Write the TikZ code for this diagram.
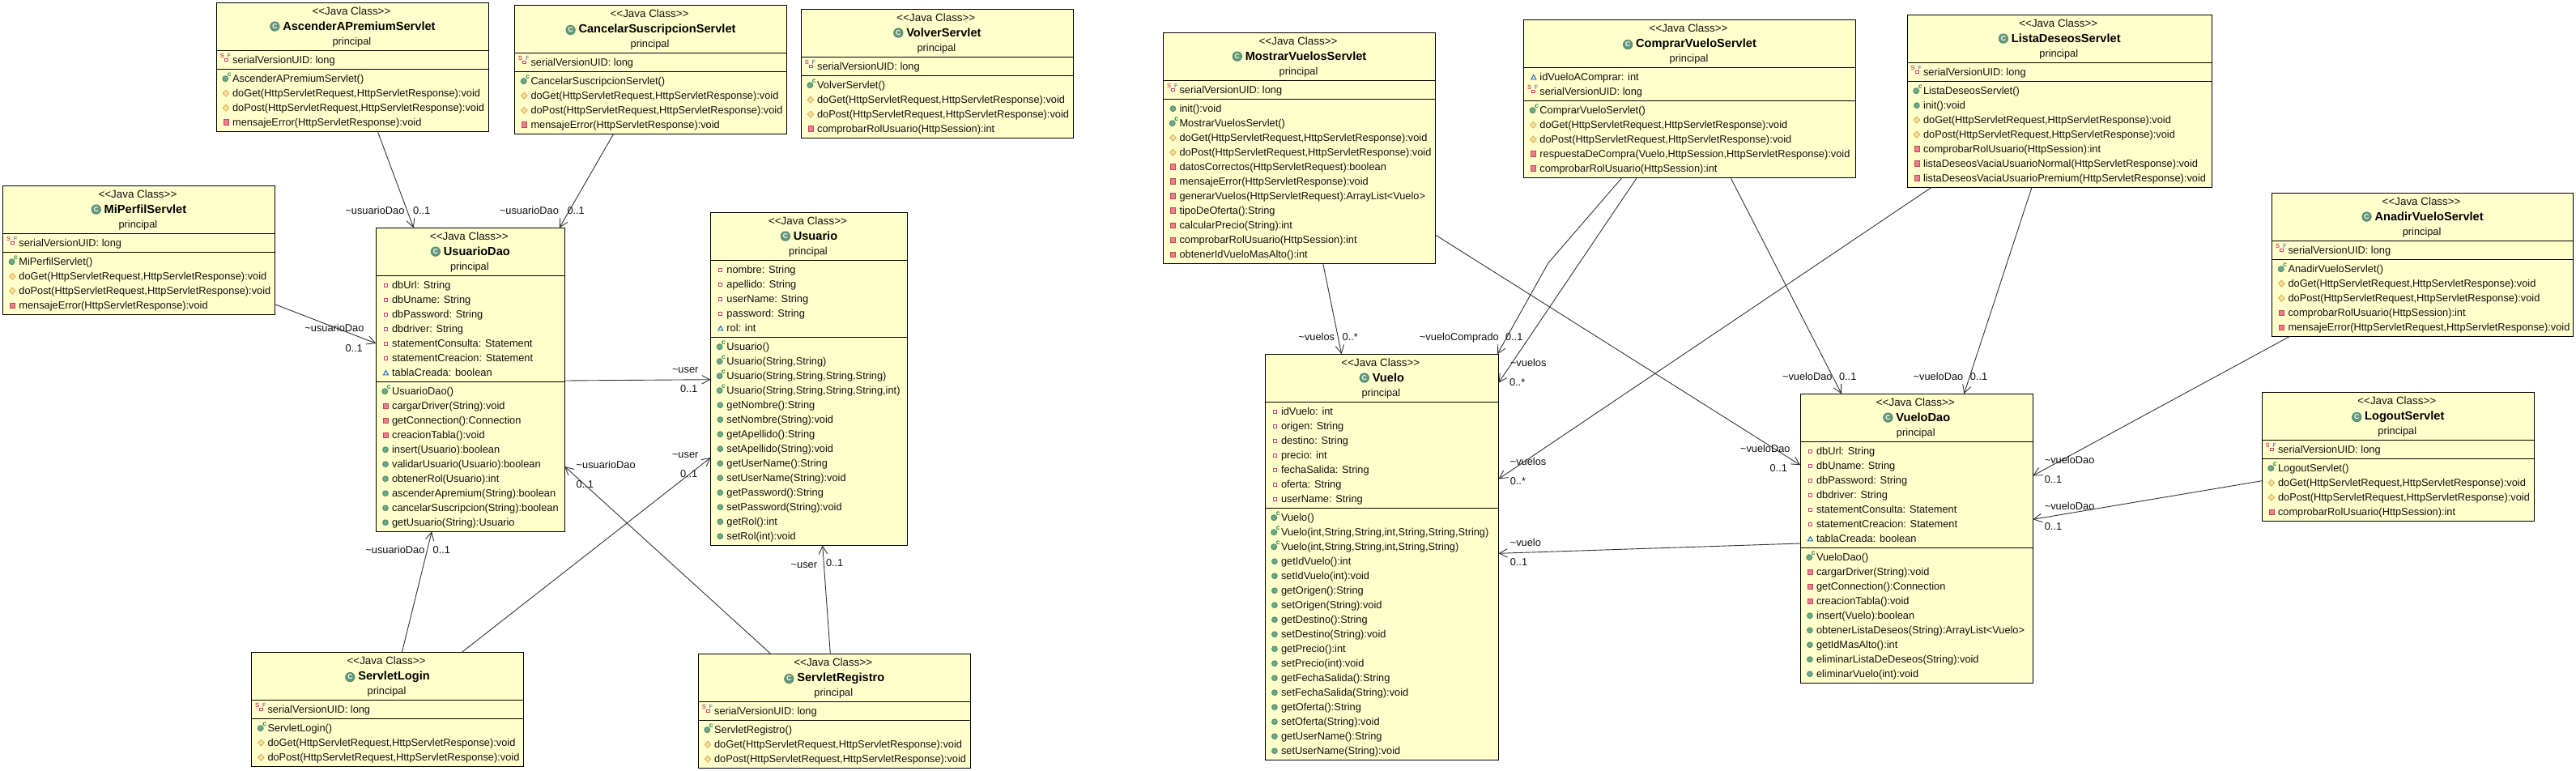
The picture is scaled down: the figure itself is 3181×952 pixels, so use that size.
\documentclass[tikz,border=0pt]{standalone}
\usepackage{fontspec}
\setmainfont{Liberation Sans}
\usetikzlibrary{calc,arrows.meta}
\definecolor{boxfill}{HTML}{FFFFCC}
\definecolor{linecol}{HTML}{333333}
\definecolor{redline}{HTML}{D0405C}
\definecolor{redfill}{HTML}{E8808C}
\definecolor{greenfill}{HTML}{6FA888}
\definecolor{greenline}{HTML}{4A8A68}
\definecolor{yellowfill}{HTML}{F8E0A0}
\definecolor{yellowline}{HTML}{D8AC50}
\definecolor{blueline}{HTML}{2A6FB5}
\definecolor{sred}{HTML}{C8004B}
\definecolor{fblue}{HTML}{3C64B4}
\definecolor{cgreen}{HTML}{1E8C4A}
\definecolor{textcol}{HTML}{101010}
\newcommand\bodyfont{\fontsize{12.8}{14}\selectfont}
\newcounter{rowc}
\newcommand\tld{\textasciitilde}
\tikzset{
  classbox/.style={draw=black,fill=boxfill,line width=1.2,inner sep=0,outer sep=0,anchor=north west},
  divline/.style={draw=black,line width=1.2},
  rowtxt/.style={anchor=base west,inner sep=0,outer sep=0,text=textcol,font=\bodyfont},
  headtxt/.style={anchor=base,inner sep=0,outer sep=0,text=textcol,font=\bodyfont},
  stereotxt/.style={anchor=base,inner sep=0,outer sep=0,text=textcol,font=\fontsize{13.4}{14}\selectfont},
  titletxt/.style={anchor=base,inner sep=0,outer sep=0,text=black,font=\fontsize{14.6}{16}\selectfont\bfseries},
  classicon/.style={circle,draw=greenline,fill=greenfill!90!black,text=white,inner sep=0,outer sep=0,minimum size=11.5,line width=.7,font=\fontsize{8.5}{9}\selectfont\bfseries},
  lbl/.style={anchor=base west,inner sep=0,outer sep=0,text=textcol,font=\bodyfont},
  assoc/.style={draw=linecol,line width=.9,-{Straight Barb[length=10pt,width=10.5pt]}},
  smallred/.style={inner sep=0,outer sep=0,text=sred,font=\fontsize{7.5}{8}\selectfont},
  smallblue/.style={inner sep=0,outer sep=0,text=fblue,font=\fontsize{7.5}{8}\selectfont},
  smallgreen/.style={inner sep=0,outer sep=0,text=cgreen,font=\fontsize{8.5}{9}\selectfont\bfseries},
}
% name, left, right, top, title, attribute rows, method rows
\newcommand\umlbox[7]{%
  \pgfmathsetmacro\bh{59+18*(#6+#7)+10}%
  \pgfmathsetmacro\bw{#3-#2}%
  \pgfmathsetmacro\bc{(#2+#3)/2}%
  \pgfmathsetmacro\sepb{59+18*#6+5}%
  \xdef\curname{#1}\xdef\curleft{#2}%
  \pgfmathsetmacro\tmpa{#4+59+16.5}\xdef\cury{\tmpa}%
  \pgfmathsetmacro\tmpb{#4+59+18*#6+5+16.5}\xdef\methy{\tmpb}%
  \node[classbox,minimum width=\bw pt,minimum height=\bh pt] (#1) at (#2,#4) {};
  \draw[divline] ($(#1.north west)+(0,59)$) -- ($(#1.north east)+(0,59)$);
  \draw[divline] ($(#1.north west)+(0,\sepb)$) -- ($(#1.north east)+(0,\sepb)$);
  \node[stereotxt] (#1-st) at (\bc-1.5,#4+15) {<{}<Java Class>{}>};
  \node[titletxt] (#1-ti) at (\bc+8,#4+34.5) {#5};
  \node[classicon] (#1-ic) at ($(#1-ti.west)+(-10,0)$) {C};
  \node[headtxt] (#1-pk) at (\bc-1,#4+52.5) {principal};
}
\newcommand\umlrow[1]{%
  \stepcounter{rowc}%
  \node[rowtxt] (\curname-r\therowc) at (\curleft+19.8,\cury) {#1};
  \pgfmathsetmacro\tmpa{\cury+18}\xdef\cury{\tmpa}%
}
\newcommand\umlmeth{\xdef\cury{\methy}}
\newcommand\fpriv[1]{%
  \filldraw[draw=redline,fill=white,line width=1.1] (\curleft+10.2,\cury-6.6) rectangle (\curleft+14.2,\cury-2.6);
  \umlrow{#1}}
\newcommand\fpkg[1]{%
  \filldraw[draw=blueline,fill=white,line width=1.1] (\curleft+9.2,\cury-1.9) -- (\curleft+15.2,\cury-1.9) -- (\curleft+12.2,\cury-7.2) -- cycle;
  \umlrow{#1}}
\newcommand\fsf[1]{%
  \stepcounter{rowc}%
  \filldraw[draw=redline,fill=white,line width=1] (\curleft+10.2,\cury-6.6) rectangle (\curleft+13.8,\cury-3);
  \node[smallred] (\curname-s\therowc) at (\curleft+7,\cury-9.5) {S};
  \node[smallblue] (\curname-f\therowc) at (\curleft+15.6,\cury-10.2) {F};
  \umlrow{#1}}
\newcommand\mcons[1]{%
  \stepcounter{rowc}%
  \filldraw[draw=greenline,fill=greenfill,line width=.8] (\curleft+11,\cury-4.6) circle (3.5);
  \node[smallgreen] (\curname-c\therowc) at (\curleft+16,\cury-10) {c};
  \umlrow{#1}}
\newcommand\mpub[1]{%
  \filldraw[draw=greenline,fill=greenfill,line width=.8] (\curleft+11.7,\cury-4.6) circle (3.4);
  \umlrow{#1}}
\newcommand\mprot[1]{%
  \filldraw[draw=yellowline,fill=yellowfill,line width=.8] (\curleft+7.9,\cury-4.6) -- (\curleft+11.7,\cury-8.6) -- (\curleft+15.5,\cury-4.6) -- (\curleft+11.7,\cury-.6) -- cycle;
  \umlrow{#1}}
\newcommand\mpriv[1]{%
  \filldraw[draw=redline,fill=redfill,line width=1] (\curleft+8.8,\cury-7.8) rectangle (\curleft+15,\cury-1.6);
  \umlrow{#1}}
\newcommand\lab[4]{\node[lbl] (#1) at (#2,#3+4.5) {#4};}
\begin{document}
\begin{tikzpicture}[x=1pt,y=-1pt]
\useasboundingbox (0,0) rectangle (3181,952);
\fill[white] (0,0) rectangle (3181,952);

\umlbox{asc}{267.3}{603.6}{3.3}{AscenderAPremiumServlet}{1}{4}
\fsf{serialVersionUID: long}
\umlmeth
\mcons{AscenderAPremiumServlet()}
\mprot{doGet(HttpServletRequest,HttpServletResponse):void}
\mprot{doPost(HttpServletRequest,HttpServletResponse):void}
\mpriv{mensajeError(HttpServletResponse):void}

\umlbox{can}{635.7}{971.4}{6.3}{CancelarSuscripcionServlet}{1}{4}
\fsf{serialVersionUID: long}
\umlmeth
\mcons{CancelarSuscripcionServlet()}
\mprot{doGet(HttpServletRequest,HttpServletResponse):void}
\mprot{doPost(HttpServletRequest,HttpServletResponse):void}
\mpriv{mensajeError(HttpServletResponse):void}

\umlbox{vol}{989.3}{1325.5}{11.3}{VolverServlet}{1}{4}
\fsf{serialVersionUID: long}
\umlmeth
\mcons{VolverServlet()}
\mprot{doGet(HttpServletRequest,HttpServletResponse):void}
\mprot{doPost(HttpServletRequest,HttpServletResponse):void}
\mpriv{comprobarRolUsuario(HttpSession):int}

\umlbox{mip}{3.6}{339.3}{229.3}{MiPerfilServlet}{1}{4}
\fsf{serialVersionUID: long}
\umlmeth
\mcons{MiPerfilServlet()}
\mprot{doGet(HttpServletRequest,HttpServletResponse):void}
\mprot{doPost(HttpServletRequest,HttpServletResponse):void}
\mpriv{mensajeError(HttpServletResponse):void}

\umlbox{dao}{464.3}{697.4}{281.3}{UsuarioDao}{7}{10}
\fpriv{dbUrl: String}
\fpriv{dbUname: String}
\fpriv{dbPassword: String}
\fpriv{dbdriver: String}
\fpriv{statementConsulta: Statement}
\fpriv{statementCreacion: Statement}
\fpkg{tablaCreada: boolean}
\umlmeth
\mcons{UsuarioDao()}
\mpriv{cargarDriver(String):void}
\mpriv{getConnection():Connection}
\mpriv{creacionTabla():void}
\mpub{insert(Usuario):boolean}
\mpub{validarUsuario(Usuario):boolean}
\mpub{obtenerRol(Usuario):int}
\mpub{ascenderApremium(String):boolean}
\mpub{cancelarSuscripcion(String):boolean}
\mpub{getUsuario(String):Usuario}

\umlbox{usu}{877.6}{1120.4}{262.3}{Usuario}{5}{14}
\fpriv{nombre: String}
\fpriv{apellido: String}
\fpriv{userName: String}
\fpriv{password: String}
\fpkg{rol: int}
\umlmeth
\mcons{Usuario()}
\mcons{Usuario(String,String)}
\mcons{Usuario(String,String,String,String)}
\mcons{Usuario(String,String,String,String,int)}
\mpub{getNombre():String}
\mpub{setNombre(String):void}
\mpub{getApellido():String}
\mpub{setApellido(String):void}
\mpub{getUserName():String}
\mpub{setUserName(String):void}
\mpub{getPassword():String}
\mpub{setPassword(String):void}
\mpub{getRol():int}
\mpub{setRol(int):void}

\umlbox{log}{310.7}{646.4}{805.3}{ServletLogin}{1}{3}
\fsf{serialVersionUID: long}
\umlmeth
\mcons{ServletLogin()}
\mprot{doGet(HttpServletRequest,HttpServletResponse):void}
\mprot{doPost(HttpServletRequest,HttpServletResponse):void}

\umlbox{reg}{862.3}{1198.3}{807.3}{ServletRegistro}{1}{3}
\fsf{serialVersionUID: long}
\umlmeth
\mcons{ServletRegistro()}
\mprot{doGet(HttpServletRequest,HttpServletResponse):void}
\mprot{doPost(HttpServletRequest,HttpServletResponse):void}

\umlbox{mos}{1436.7}{1772.4}{40.3}{MostrarVuelosServlet}{1}{11}
\fsf{serialVersionUID: long}
\umlmeth
\mpub{init():void}
\mcons{MostrarVuelosServlet()}
\mprot{doGet(HttpServletRequest,HttpServletResponse):void}
\mprot{doPost(HttpServletRequest,HttpServletResponse):void}
\mpriv{datosCorrectos(HttpServletRequest):boolean}
\mpriv{mensajeError(HttpServletResponse):void}
\mpriv{generarVuelos(HttpServletRequest):ArrayList<Vuelo>}
\mpriv{tipoDeOferta():String}
\mpriv{calcularPrecio(String):int}
\mpriv{comprobarRolUsuario(HttpSession):int}
\mpriv{obtenerIdVueloMasAlto():int}

\umlbox{com}{1881.6}{2291.4}{24.3}{ComprarVueloServlet}{2}{5}
\fpkg{idVueloAComprar: int}
\fsf{serialVersionUID: long}
\umlmeth
\mcons{ComprarVueloServlet()}
\mprot{doGet(HttpServletRequest,HttpServletResponse):void}
\mprot{doPost(HttpServletRequest,HttpServletResponse):void}
\mpriv{respuestaDeCompra(Vuelo,HttpSession,HttpServletResponse):void}
\mpriv{comprobarRolUsuario(HttpSession):int}

\umlbox{lis}{2355.2}{2731.3}{18.3}{ListaDeseosServlet}{1}{7}
\fsf{serialVersionUID: long}
\umlmeth
\mcons{ListaDeseosServlet()}
\mpub{init():void}
\mprot{doGet(HttpServletRequest,HttpServletResponse):void}
\mprot{doPost(HttpServletRequest,HttpServletResponse):void}
\mpriv{comprobarRolUsuario(HttpSession):int}
\mpriv{listaDeseosVaciaUsuarioNormal(HttpServletResponse):void}
\mpriv{listaDeseosVaciaUsuarioPremium(HttpServletResponse):void}

\umlbox{ana}{2805.7}{3177.5}{238.3}{AnadirVueloServlet}{1}{5}
\fsf{serialVersionUID: long}
\umlmeth
\mcons{AnadirVueloServlet()}
\mprot{doGet(HttpServletRequest,HttpServletResponse):void}
\mprot{doPost(HttpServletRequest,HttpServletResponse):void}
\mpriv{comprobarRolUsuario(HttpSession):int}
\mpriv{mensajeError(HttpServletRequest,HttpServletResponse):void}

\umlbox{vue}{1562.2}{1850.5}{437.3}{Vuelo}{7}{17}
\fpriv{idVuelo: int}
\fpriv{origen: String}
\fpriv{destino: String}
\fpriv{precio: int}
\fpriv{fechaSalida: String}
\fpriv{oferta: String}
\fpriv{userName: String}
\umlmeth
\mcons{Vuelo()}
\mcons{Vuelo(int,String,String,int,String,String,String)}
\mcons{Vuelo(int,String,String,int,String,String)}
\mpub{getIdVuelo():int}
\mpub{setIdVuelo(int):void}
\mpub{getOrigen():String}
\mpub{setOrigen(String):void}
\mpub{getDestino():String}
\mpub{setDestino(String):void}
\mpub{getPrecio():int}
\mpub{setPrecio(int):void}
\mpub{getFechaSalida():String}
\mpub{setFechaSalida(String):void}
\mpub{getOferta():String}
\mpub{setOferta(String):void}
\mpub{getUserName():String}
\mpub{setUserName(String):void}

\umlbox{vda}{2223.2}{2510.4}{486.3}{VueloDao}{7}{9}
\fpriv{dbUrl: String}
\fpriv{dbUname: String}
\fpriv{dbPassword: String}
\fpriv{dbdriver: String}
\fpriv{statementConsulta: Statement}
\fpriv{statementCreacion: Statement}
\fpkg{tablaCreada: boolean}
\umlmeth
\mcons{VueloDao()}
\mpriv{cargarDriver(String):void}
\mpriv{getConnection():Connection}
\mpriv{creacionTabla():void}
\mpub{insert(Vuelo):boolean}
\mpub{obtenerListaDeseos(String):ArrayList<Vuelo>}
\mpub{getIdMasAlto():int}
\mpub{eliminarListaDeDeseos(String):void}
\mpub{eliminarVuelo(int):void}

\umlbox{lgo}{2793.2}{3129.3}{484.3}{LogoutServlet}{1}{4}
\fsf{serialVersionUID: long}
\umlmeth
\mcons{LogoutServlet()}
\mprot{doGet(HttpServletRequest,HttpServletResponse):void}
\mprot{doPost(HttpServletRequest,HttpServletResponse):void}
\mpriv{comprobarRolUsuario(HttpSession):int}

% connectors
\draw[assoc] ($(asc.south west)+(199,0)$) -- ($(dao.north west)+(46.4,0)$);
\draw[assoc] ($(can.south west)+(122,0)$) -- ($(dao.north east)+(-6.6,0)$);
\draw[assoc] ($(mip.south east)+(0,-12.6)$) -- ($(dao.north west)+(0,142.7)$);
\draw[assoc] ($(dao.north east)+(0,188.7)$) -- ($(usu.north west)+(0,206.4)$);
\draw[assoc] ($(log.north west)+(185.7,0)$) -- ($(dao.south west)+(68.9,0)$);
\draw[assoc] ($(log.north west)+(259.7,0)$) -- ($(usu.north west)+(0,302.7)$);
\draw[assoc] ($(reg.north west)+(89.4,0)$) -- ($(dao.north east)+(0,294.7)$);
\draw[assoc] ($(reg.north west)+(163,0)$) -- ($(usu.south west)+(138.1,0)$);
\draw[assoc] ($(mos.south west)+(197,0)$) -- ($(vue.north west)+(94.4,0)$);
\draw[assoc] ($(mos.north east)+(0,249.7)$) -- ($(vda.north west)+(0,88)$);
\coordinate (bend11) at ($(com.south west)+(30.1,105.7)$);
\draw[assoc] ($(com.south west)+(121.4,0)$) -- (bend11) -- ($(vue.north east)+(-1.5,0)$);
\draw[assoc] ($(com.south west)+(139.8,0)$) -- ($(vue.north east)+(0,35.4)$);
\draw[assoc] ($(com.south west)+(255.4,0)$) -- ($(vda.north west)+(50.8,0)$);
\draw[assoc] ($(lis.south west)+(30,0)$) -- ($(vue.north east)+(0,154.1)$);
\draw[assoc] ($(lis.south west)+(153.8,0)$) -- ($(vda.north west)+(202.1,0)$);
\draw[assoc] ($(ana.south west)+(22,0)$) -- ($(vda.north east)+(0,101)$);
\draw[assoc] ($(lgo.north west)+(0,109.4)$) -- ($(vda.north east)+(0,155)$);
\draw[assoc] ($(vda.north west)+(0,184.7)$) -- ($(vue.north east)+(0,246)$);

% labels
\lab{a1}{426.5}{260}{\tld usuarioDao}
\lab{a2}{510}{260}{0..1}
\lab{b1}{617}{260}{\tld usuarioDao}
\lab{b2}{700.5}{260}{0..1}
\lab{c1}{376.5}{405}{\tld usuarioDao}
\lab{c2}{426.5}{430}{0..1}
\lab{d1}{830}{455.7}{\tld user}
\lab{d2}{840}{480.3}{0..1}
\lab{e1}{451.5}{679.3}{\tld usuarioDao}
\lab{e2}{534.7}{678.7}{0..1}
\lab{f1}{830}{560.7}{\tld user}
\lab{f2}{840}{585}{0..1}
\lab{g1}{711.7}{573.7}{\tld usuarioDao}
\lab{g2}{711.7}{598}{0..1}
\lab{h1}{976.7}{696.7}{\tld user}
\lab{h2}{1020}{695.3}{0..1}
\lab{i1}{1603.6}{416}{\tld vuelos}
\lab{i2}{1657.7}{416}{0..*}
\lab{j1}{2149}{554}{\tld vueloDao}
\lab{j2}{2185.7}{578}{0..1}
\lab{k1}{1753}{416}{\tld vueloComprado}
\lab{k2}{1859}{416}{0..1}
\lab{l1}{1865}{447.7}{\tld vuelos}
\lab{l2}{1864}{472}{0..*}
\lab{m1}{2201}{465}{\tld vueloDao}
\lab{m2}{2271}{465}{0..1}
\lab{n1}{1864.8}{569.6}{\tld vuelos}
\lab{n2}{1864.8}{594}{0..*}
\lab{o1}{2362.7}{465}{\tld vueloDao}
\lab{o2}{2432.8}{465}{0..1}
\lab{p1}{2524.8}{567.7}{\tld vueloDao}
\lab{p2}{2524.8}{592.3}{0..1}
\lab{q1}{2524.8}{625.3}{\tld vueloDao}
\lab{q2}{2524.8}{650.3}{0..1}
\lab{r1}{1864.8}{670}{\tld vuelo}
\lab{r2}{1864.8}{694}{0..1}
\end{tikzpicture}
\end{document}
